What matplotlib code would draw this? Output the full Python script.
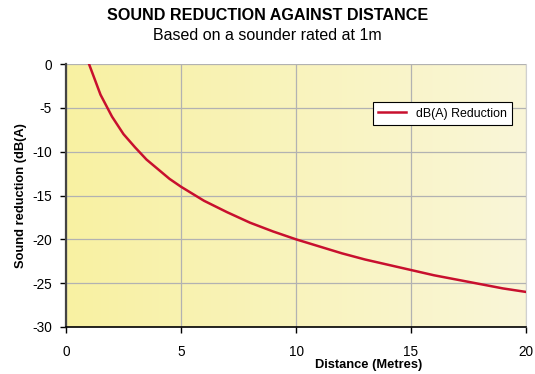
import numpy as np
import matplotlib
matplotlib.use("Agg")
import matplotlib.pyplot as plt
from matplotlib.colors import LinearSegmentedColormap

plt.rcParams["font.family"] = ["Liberation Sans", "DejaVu Sans"]
plt.rcParams["axes.unicode_minus"] = False

# ===== dados =====
distancia = [1, 1.5, 2, 2.5, 3, 3.5, 4, 4.5, 5, 6, 7, 8, 9, 10,
             11, 12, 13, 14, 15, 16, 17, 18, 19, 20]
reducao = [0, -3.5, -6.0, -8.0, -9.5, -10.9, -12.0, -13.1, -14.0, -15.6, -16.9, -18.1,
           -19.1, -20.0, -20.8, -21.6, -22.3, -22.9, -23.5, -24.1, -24.6, -25.1, -25.6, -26.0]
x_ticks = [0, 5, 10, 15, 20]
y_ticks = [0, -5, -10, -15, -20, -25, -30]

fig = plt.figure(figsize=(5.35, 3.74), dpi=100)
ax = fig.add_axes([66 / 535, 1 - 327 / 374, 460 / 535, 263 / 374])

# fundo em gradiente (amarelo -> creme)
fundo = LinearSegmentedColormap.from_list("fundo", ["#F8F1A2", "#FAF6D8"])
ax.imshow(np.linspace(0, 1, 256).reshape(1, -1), cmap=fundo, aspect="auto",
          extent=[0, 20, -30, 0], zorder=0)

ax.plot(distancia, reducao, color="#C8102E", linewidth=1.8, label="dB(A) Reduction", zorder=3)

ax.set_xlim(0, 20)
ax.set_ylim(-30, 0)
ax.set_xticks(x_ticks)
ax.set_yticks(y_ticks)
ax.grid(True, color="#B2B2B2", linewidth=0.9)
for gl in ax.get_xgridlines() + ax.get_ygridlines():
    gl.set_zorder(1)

ax.tick_params(axis="both", direction="out", length=4, width=1, labelsize=9.8, pad=6)
ax.tick_params(axis="x", pad=9)
ax.spines["left"].set_linewidth(1.6)
ax.spines["left"].set_color("#444444")
ax.spines["bottom"].set_linewidth(1.2)
ax.spines["top"].set_visible(False)
ax.spines["right"].set_color("#D0D0D0")

ax.set_ylabel("Sound reduction (dB(A)", fontsize=9.3, fontweight="bold")
ax.yaxis.set_label_coords(-0.085, 0.5)
ax.set_xlabel("Distance (Metres)", fontsize=9.3, fontweight="bold")
ax.xaxis.set_label_coords(0.657, -0.12)

leg = ax.legend(loc="upper right", bbox_to_anchor=(0.9696, 0.855), borderaxespad=0,
                fontsize=8.9, frameon=True, fancybox=False, handlelength=2.2, borderpad=0.45)
leg.get_frame().set_edgecolor("black")
leg.get_frame().set_linewidth(0.8)
leg.get_frame().set_facecolor("white")
leg.get_frame().set_alpha(1)

fig.text(0.5, 1 - 15 / 374, "SOUND REDUCTION AGAINST DISTANCE", ha="center", va="center",
         fontsize=11.6, fontweight="bold")
fig.text(0.5, 1 - 36 / 374, "Based on a sounder rated at 1m", ha="center", va="center",
         fontsize=11.5)

plt.savefig("out.png", dpi=100)
plt.close()
